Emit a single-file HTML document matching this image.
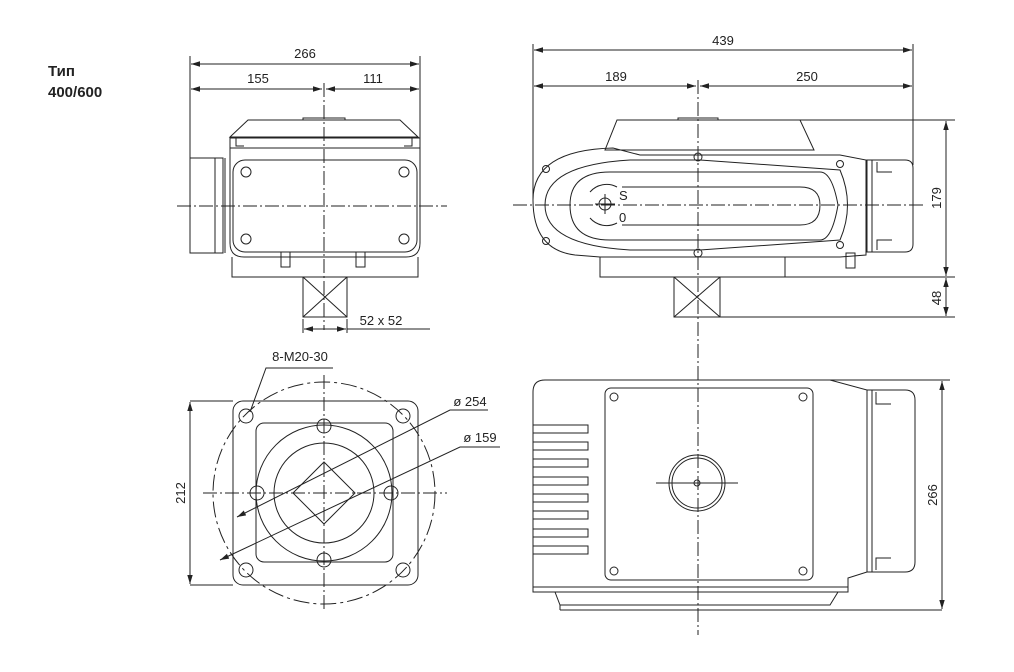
<!DOCTYPE html>
<html><head><meta charset="utf-8"><style>
html,body{margin:0;padding:0;background:#fff;width:1014px;height:672px;overflow:hidden}
svg{display:block}
text{font-family:"Liberation Sans",sans-serif;fill:#222}
.t{font-size:13px}
</style></head><body>
<svg width="1014" height="672" viewBox="0 0 1014 672" xmlns="http://www.w3.org/2000/svg">
<defs>
<marker id="a" viewBox="0 0 10 10" refX="10" refY="5" markerWidth="9" markerHeight="9" orient="auto-start-reverse" markerUnits="userSpaceOnUse"><path d="M0,2 L10,5 L0,8 z" fill="#222"/></marker>
</defs>
<text x="48" y="76" style="font-size:15px;font-weight:bold">Тип</text>
<text x="48" y="97" style="font-size:15px;font-weight:bold">400/600</text>

<g stroke="#222" stroke-width="1" fill="none">
<!-- ===== TOP LEFT VIEW ===== -->
<line x1="190" y1="56" x2="190" y2="160"/><line x1="420" y1="56" x2="420" y2="148"/>
<line x1="191" y1="64" x2="419" y2="64" marker-start="url(#a)" marker-end="url(#a)"/>
<line x1="191" y1="89" x2="322" y2="89" marker-start="url(#a)" marker-end="url(#a)"/>
<line x1="326" y1="89" x2="419" y2="89" marker-start="url(#a)" marker-end="url(#a)"/>
<line x1="324" y1="83" x2="324" y2="330" stroke-dasharray="14,3,2,3"/>
<line x1="177" y1="206" x2="447" y2="206" stroke-dasharray="14,3,2,3"/>
<path d="M248,120 H400 L418,137 H230 Z"/>
<path d="M303,120 v-2 h42 v2"/>
<path d="M236,137 v9 h8 M412,137 v9 h-8"/>
<path d="M230,138 H420 V243 Q420,257 406,257 H244 Q230,257 230,243 Z"/>
<line x1="230" y1="148" x2="420" y2="148"/>
<path d="M232,257 V277 H418 V257"/>
<path d="M190,158 H223 V253 H190 Z"/>
<line x1="215" y1="158" x2="215" y2="253"/><line x1="225" y1="158" x2="225" y2="253"/>
<rect x="233" y="160" width="184" height="92" rx="12"/>
<circle cx="246" cy="172" r="5"/><circle cx="404" cy="172" r="5"/><circle cx="246" cy="239" r="5"/><circle cx="404" cy="239" r="5"/>
<rect x="281" y="252" width="9" height="15"/><rect x="356" y="252" width="9" height="15"/>
<path d="M303,277 V317 H347 V277 M303,277 L347,317 M347,277 L303,317"/>
<line x1="303" y1="319" x2="303" y2="333"/><line x1="347" y1="319" x2="347" y2="333"/>
<line x1="304" y1="329" x2="346" y2="329" marker-start="url(#a)" marker-end="url(#a)"/>
<line x1="347" y1="329" x2="430" y2="329"/>

<!-- ===== TOP RIGHT VIEW ===== -->
<line x1="533" y1="44" x2="533" y2="200"/><line x1="913" y1="44" x2="913" y2="165"/>
<line x1="534" y1="50" x2="912" y2="50" marker-start="url(#a)" marker-end="url(#a)"/>
<line x1="534" y1="86" x2="696" y2="86" marker-start="url(#a)" marker-end="url(#a)"/>
<line x1="700" y1="86" x2="912" y2="86" marker-start="url(#a)" marker-end="url(#a)"/>
<line x1="698" y1="80" x2="698" y2="635" stroke-dasharray="14,3,2,3"/>
<line x1="513" y1="205" x2="925" y2="205" stroke-dasharray="14,3,2,3"/>
<path d="M617,120 H800 L814,150 H605 Z"/>
<path d="M678,120 v-2 h40 v2"/>
<path d="M613,148 Q533,150 533,200 Q533,250 575,255 L600,257 H840 L866,255 V160 L840,155 H750 Q700,155 640,155 Z"/>
<path d="M630,160 Q545,165 545,205 Q545,245 630,250 L700,250 L840,240 Q855,205 840,170 L700,160 Z"/>
<path d="M610,172 H820 Q832,172 838,205 Q832,240 820,240 H610 Q570,240 570,205 Q570,172 610,172 Z"/>
<path d="M622,187 H800 Q820,187 820,205 Q820,225 800,225 H622"/>
<circle cx="605" cy="204" r="6"/><line x1="595" y1="204" x2="615" y2="204"/><line x1="605" y1="194" x2="605" y2="214"/>
<path d="M590,192 A22,22 0 0 1 617,187" /><path d="M590,218 A22,22 0 0 0 617,223" />
<circle cx="698" cy="157" r="4"/><circle cx="698" cy="253" r="4"/>
<circle cx="546" cy="169" r="3.5"/><circle cx="546" cy="241" r="3.5"/><circle cx="840" cy="164" r="3.5"/><circle cx="840" cy="245" r="3.5"/>
<path d="M867,160 H905 Q913,160 913,168 V244 Q913,252 905,252 H867 Z"/>
<line x1="872" y1="160" x2="872" y2="252"/>
<path d="M877,162 v10 h15 M877,250 v-10 h15"/>
<rect x="846" y="253" width="9" height="15"/>
<path d="M600,257 V277 H785 V257"/>
<path d="M674,277 V317 H720 V277 M674,277 L720,317 M720,277 L674,317"/>
<line x1="800" y1="120" x2="955" y2="120"/>
<line x1="720" y1="277" x2="955" y2="277"/>
<line x1="720" y1="317" x2="955" y2="317"/>
<line x1="946" y1="121" x2="946" y2="276" marker-start="url(#a)" marker-end="url(#a)"/>
<line x1="946" y1="278" x2="946" y2="316" marker-start="url(#a)" marker-end="url(#a)"/>

<!-- ===== BOTTOM LEFT VIEW ===== -->
<line x1="324" y1="375" x2="324" y2="612" stroke-dasharray="14,3,2,3"/>
<line x1="203" y1="493" x2="447" y2="493" stroke-dasharray="14,3,2,3"/>
<circle cx="324" cy="493" r="111" stroke-dasharray="16,4,3,4"/>
<rect x="233" y="401" width="185" height="184" rx="10"/>
<rect x="256" y="423" width="137" height="139" rx="8"/>
<circle cx="324" cy="493" r="68"/>
<circle cx="324" cy="493" r="50"/>
<path d="M324,462 L355,493 L324,524 L293,493 Z"/>
<circle cx="246" cy="416" r="7"/><circle cx="403" cy="416" r="7"/><circle cx="246" cy="570" r="7"/><circle cx="403" cy="570" r="7"/>
<circle cx="257" cy="493" r="7"/><circle cx="391" cy="493" r="7"/><circle cx="324" cy="426" r="7"/><circle cx="324" cy="560" r="7"/>
<line x1="190" y1="401" x2="233" y2="401"/><line x1="190" y1="585" x2="233" y2="585"/>
<line x1="190" y1="402" x2="190" y2="584" marker-start="url(#a)" marker-end="url(#a)"/>
<path d="M333,368 H266 L250,412"/>
<path d="M488,410 H450 L237,517" marker-end="url(#a)"/>
<path d="M500,447 H460 L220,560" marker-end="url(#a)"/>

<!-- ===== BOTTOM RIGHT VIEW ===== -->
<path d="M545,380 H830 L867,390 V572 L848,578 V592 H533 V392 Q533,380 545,380 Z"/>
<line x1="533" y1="587" x2="848" y2="587"/>
<path d="M555,592 L560,605 H830 L838,592"/>
<line x1="560" y1="605" x2="560" y2="610"/><line x1="560" y1="610" x2="942" y2="610"/>
<path d="M867,390 H905 Q915,390 915,400 V562 Q915,572 905,572 H867"/>
<line x1="872" y1="390" x2="872" y2="572"/>
<path d="M876,392 v12 h15 M876,570 v-12 h15"/>
<rect x="605" y="388" width="208" height="192" rx="6"/>
<circle cx="614" cy="397" r="4"/><circle cx="803" cy="397" r="4"/><circle cx="614" cy="571" r="4"/><circle cx="803" cy="571" r="4"/>
<g>
<rect x="533" y="425" width="55" height="8"/><rect x="533" y="442" width="55" height="8"/><rect x="533" y="459" width="55" height="8"/><rect x="533" y="477" width="55" height="8"/><rect x="533" y="494" width="55" height="8"/><rect x="533" y="511" width="55" height="8"/><rect x="533" y="529" width="55" height="8"/><rect x="533" y="546" width="55" height="8"/>
</g>
<circle cx="697" cy="483" r="28"/><circle cx="697" cy="483" r="25"/>
<circle cx="697" cy="483" r="3"/>
<line x1="656" y1="483" x2="738" y2="483"/>
<line x1="830" y1="380" x2="950" y2="380"/>
<line x1="942" y1="381" x2="942" y2="609" marker-start="url(#a)" marker-end="url(#a)"/>
</g>

<text class="t" x="305" y="58" text-anchor="middle">266</text>
<text class="t" x="258" y="83" text-anchor="middle">155</text>
<text class="t" x="373" y="83" text-anchor="middle">111</text>
<text class="t" x="381" y="325" text-anchor="middle">52 x 52</text>
<text class="t" x="723" y="45" text-anchor="middle">439</text>
<text class="t" x="616" y="81" text-anchor="middle">189</text>
<text class="t" x="807" y="81" text-anchor="middle">250</text>
<text class="t" x="619" y="200">S</text>
<text class="t" x="619" y="222">0</text>
<text class="t" transform="translate(941,198) rotate(-90)" text-anchor="middle">179</text>
<text class="t" transform="translate(941,298) rotate(-90)" text-anchor="middle">48</text>
<text class="t" x="300" y="361" text-anchor="middle">8-M20-30</text>
<text class="t" x="470" y="406" text-anchor="middle">ø 254</text>
<text class="t" x="480" y="442" text-anchor="middle">ø 159</text>
<text class="t" transform="translate(185,493) rotate(-90)" text-anchor="middle">212</text>
<text class="t" transform="translate(937,495) rotate(-90)" text-anchor="middle">266</text>
</svg>
</body></html>
